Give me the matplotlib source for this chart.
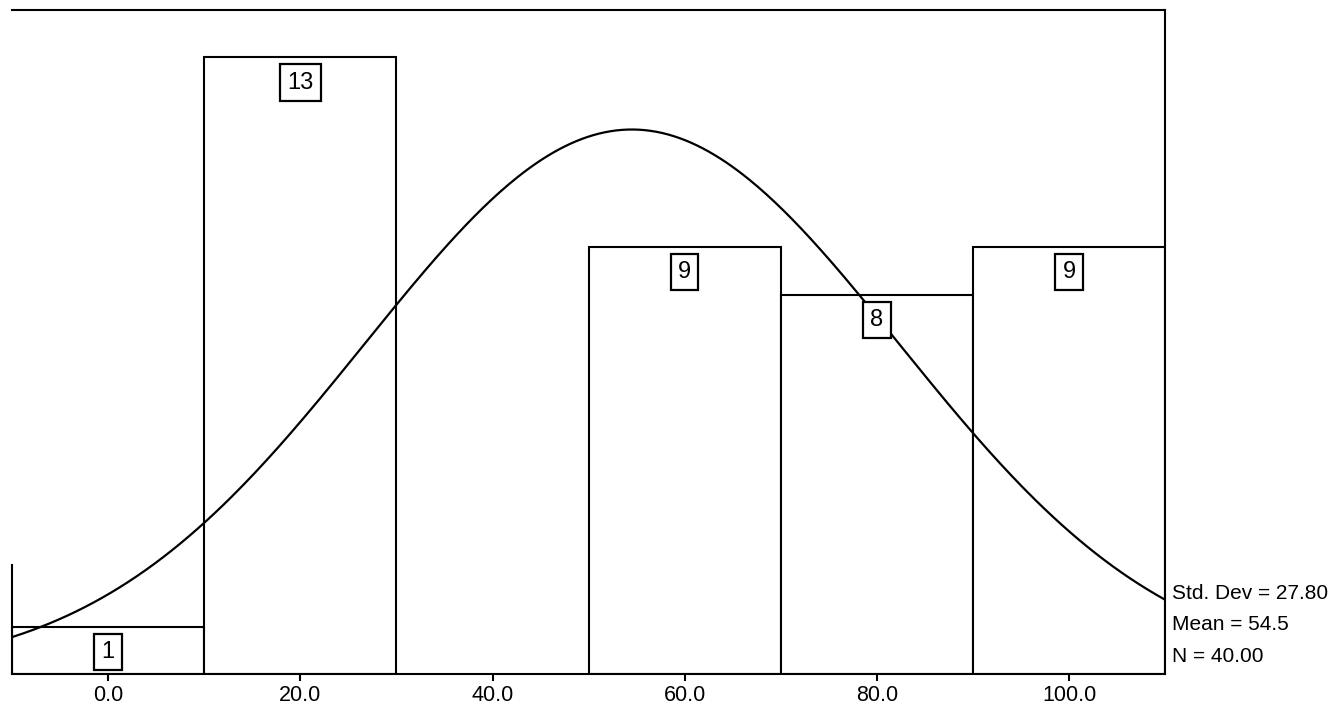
import numpy as np
import matplotlib
matplotlib.use("Agg")
import matplotlib.pyplot as plt

plt.rcParams['font.family'] = ['Liberation Sans Narrow', 'Liberation Sans', 'DejaVu Sans']

# Histogram bins (midpoints) and frequencies
bin_mids = [0, 20, 40, 60, 80, 100]
counts = [1, 13, 0, 9, 8, 9]
bin_width = 20

# Summary statistics
std_dev = 27.80
mean = 54.5
n_total = 40

tick_vals = [0, 20, 40, 60, 80, 100]
tick_labels = ['0.0', '20.0', '40.0', '60.0', '80.0', '100.0']

fig = plt.figure(figsize=(13.37, 7.14), dpi=100)
ax = fig.add_axes([0.009, 0.056, 0.8625, 0.930])

for mid, c in zip(bin_mids, counts):
    if c == 0:
        continue
    ax.bar(mid, c, width=bin_width, color='white', edgecolor='black', linewidth=1.5, zorder=2)
    ax.text(mid, c - 0.53, str(c), ha='center', va='center', fontsize=17, zorder=4,
            bbox=dict(boxstyle='square,pad=0.3', facecolor='white', edgecolor='black', linewidth=1.6))

# Normal curve scaled to frequency
x = np.linspace(-10, 110, 400)
y = n_total * bin_width / (std_dev * np.sqrt(2 * np.pi)) * np.exp(-0.5 * ((x - mean) / std_dev) ** 2)
ax.plot(x, y, color='black', linewidth=1.6, zorder=3)

ax.set_xlim(-10, 110)
ax.set_ylim(0, 14)
ax.set_xticks(tick_vals)
ax.set_xticklabels(tick_labels, fontsize=15.5)
ax.set_yticks([])
ax.tick_params(axis='x', length=5, width=1.5, direction='out', pad=3)
for side in ['top', 'right', 'bottom', 'left']:
    ax.spines[side].set_linewidth(1.5)
ax.spines['left'].set_bounds(0, 2.3)

stats = f'Std. Dev = {std_dev:.2f}\nMean = {mean}\nN = {n_total:.2f}'
ax.text(1.006, 0.012, stats, transform=ax.transAxes, ha='left', va='bottom',
        fontsize=15, linespacing=1.85)

fig.savefig('out.png', dpi=100)
